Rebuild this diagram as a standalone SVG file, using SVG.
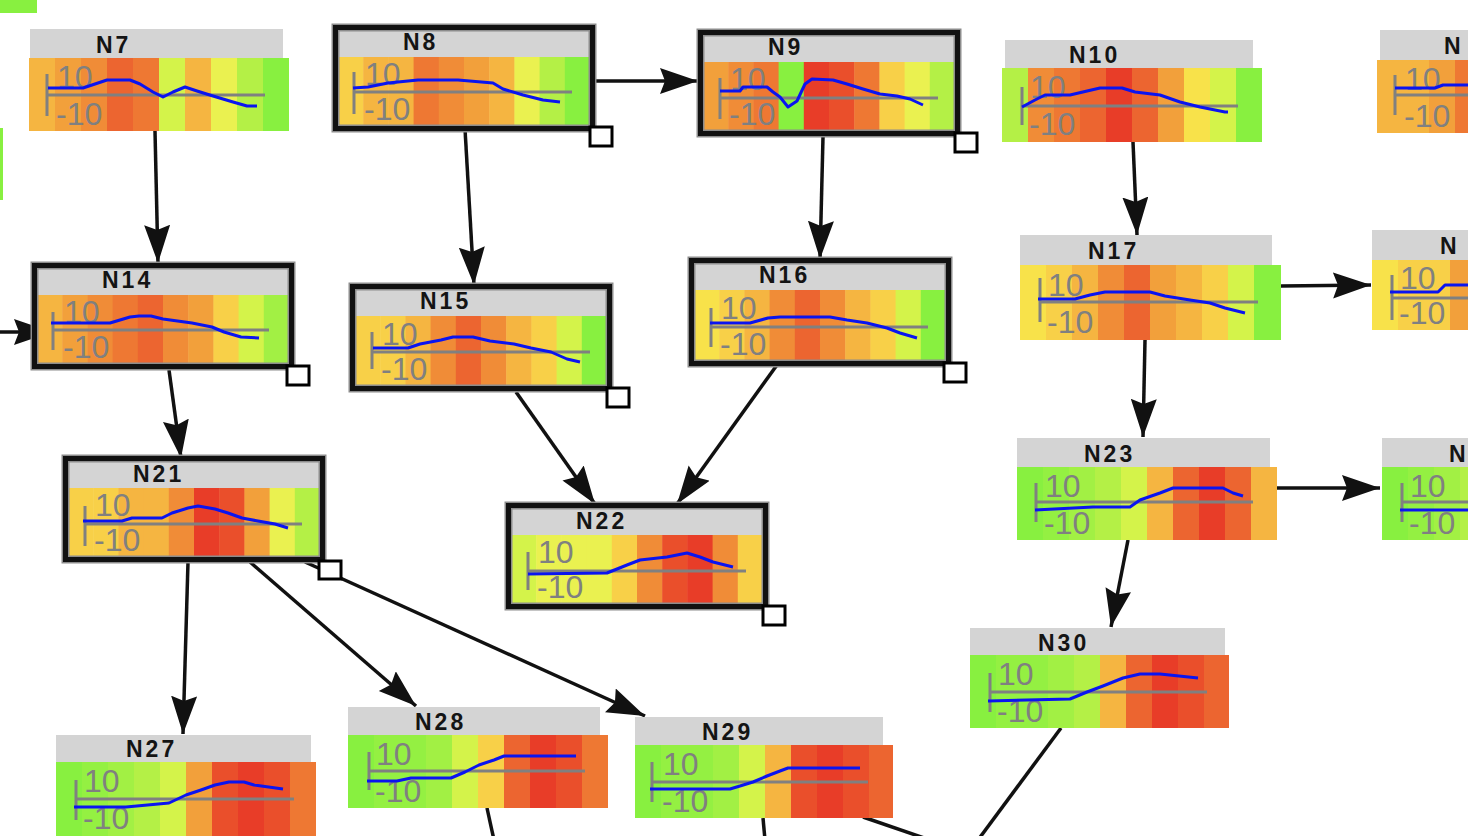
<svg xmlns="http://www.w3.org/2000/svg" width="1468" height="836" viewBox="0 0 1468 836">
<defs>
<style>
.hd{fill:#d4d4d4}
.tt{font-family:"Liberation Sans",Arial,sans-serif;font-weight:bold;font-size:23px;fill:#141414;letter-spacing:3px}
.lb{font-family:"Liberation Sans",Arial,sans-serif;font-size:32px;fill:#808080}
.ax{fill:none;stroke:#808080;stroke-width:3}
.bl{fill:none;stroke:#0a14f0;stroke-width:3;stroke-linejoin:round}
.bo{fill:none;stroke:#8c8c8c;stroke-width:8}
.bk{fill:none;stroke:#111;stroke-width:5}
.hn{fill:#fff;stroke:#000;stroke-width:3}
.e{fill:none;stroke:#111;stroke-width:3.5}
.G{fill:#88f040}.G2{fill:#94f042}.LG{fill:#a2f044}.LG2{fill:#b4f046}.YG{fill:#d4f34a}
.Y{fill:#eaf150}.Y2{fill:#f8e24a}.YO{fill:#f8d048}.OY{fill:#f5b541}.O{fill:#f2a03b}
.O2{fill:#f08c37}.OR{fill:#ee7833}.R1{fill:#ec6530}.R2{fill:#ea4f2b}.R{fill:#e83d28}
</style>
<marker id="ah" markerUnits="userSpaceOnUse" markerWidth="40" markerHeight="28" refX="38" refY="13" orient="auto">
<path d="M0,0 L38,13 L0,26 L5,13 z" fill="#111"/>
</marker>
</defs>
<rect width="1468" height="836" fill="#fff"/>
<rect x="0" y="0" width="37" height="13" class="G"/>
<rect x="0" y="128" width="3" height="72" class="G"/>

<g id="edges">
<path class="e" d="M155,131 L158,263" marker-end="url(#ah)"/>
<path class="e" d="M592,81 L698,81" marker-end="url(#ah)"/>
<path class="e" d="M465,129 L474,285" marker-end="url(#ah)"/>
<path class="e" d="M823,137 L820,259" marker-end="url(#ah)"/>
<path class="e" d="M1133,142 L1137,235" marker-end="url(#ah)"/>
<path class="e" d="M1281,286 L1371,285" marker-end="url(#ah)"/>
<path class="e" d="M169,370 L181,458" marker-end="url(#ah)"/>
<path class="e" d="M516,392 L595,504" marker-end="url(#ah)"/>
<path class="e" d="M777,365 L677,504" marker-end="url(#ah)"/>
<path class="e" d="M1145,340 L1143,437" marker-end="url(#ah)"/>
<path class="e" d="M1128,540 L1111,627" marker-end="url(#ah)"/>
<path class="e" d="M1275,488 L1380,488" marker-end="url(#ah)"/>
<path class="e" d="M188,562 L183,734" marker-end="url(#ah)"/>
<path class="e" d="M250,562 L416,706" marker-end="url(#ah)"/>
<path class="e" d="M305,562 L645,716" marker-end="url(#ah)"/>
<path class="e" d="M-30,332 L52,332" marker-end="url(#ah)"/>
<path class="e" d="M487,808 L494,840"/>
<path class="e" d="M763,818 L765,840"/>
<path class="e" d="M863,817 L930,840"/>
<path class="e" d="M1061,728 L978,840"/>
</g>

<g id="n7" transform="translate(29,58)">
<rect class="hd" x="1" y="-29" width="253" height="29"/>
<text class="tt" x="67" y="-5">N7</text>
<rect class="OY" x="0" width="26.5" height="73"/><rect class="O" x="26" width="26.5" height="73"/><rect class="O2" x="52" width="26.5" height="73"/><rect class="R1" x="78" width="26.5" height="73"/><rect class="OR" x="104" width="26.5" height="73"/><rect class="YG" x="130" width="26.5" height="73"/><rect class="OY" x="156" width="26.5" height="73"/><rect class="Y" x="182" width="26.5" height="73"/><rect class="LG2" x="208" width="26.5" height="73"/><rect class="G" x="234" width="26" height="73"/>
<text class="lb" x="28" y="30">10</text><text class="lb" x="27" y="67">-10</text>
<path class="ax" d="M18,16V58M18,37H236"/>
<polyline class="bl" points="19,30 54,30 78,22 101,22 111,26 124,34 134,39 144,34 156,29 168,33 184,38 204,44 218,48 228,48"/>
</g>

<g id="n8" transform="translate(338,57)">
<rect class="hd" x="0" y="-27" width="252" height="27"/>
<text class="tt" x="65" y="-7">N8</text>
<rect class="YO" x="0" width="25.7" height="69"/><rect class="OY" x="25.2" width="25.7" height="69"/><rect class="OY" x="50.4" width="25.7" height="69"/><rect class="OR" x="75.6" width="25.7" height="69"/><rect class="O2" x="100.8" width="25.7" height="69"/><rect class="O" x="126" width="25.7" height="69"/><rect class="OY" x="151.2" width="25.7" height="69"/><rect class="Y" x="176.4" width="25.7" height="69"/><rect class="LG2" x="201.6" width="25.7" height="69"/><rect class="G" x="226.8" width="25.2" height="69"/>
<text class="lb" x="27" y="28">10</text><text class="lb" x="26" y="63">-10</text>
<path class="ax" d="M16,15V57M16,35H234"/>
<polyline class="bl" points="15,31 30,30 50,26 80,23 120,23 155,26 165,32 185,38 205,43 222,45"/>
<rect class="bo" x="-2.5" y="-29.5" width="257" height="101"/>
<rect class="bk" x="-2.5" y="-29.5" width="257" height="101"/>
<rect class="hn" x="252" y="70" width="22" height="19"/>
</g>

<g id="n9" transform="translate(703,62)">
<rect class="hd" x="0" y="-27" width="252" height="27"/>
<text class="tt" x="65" y="-7">N9</text>
<rect class="O" x="0" width="25.7" height="69"/><rect class="O2" x="25.2" width="25.7" height="69"/><rect class="OR" x="50.4" width="25.7" height="69"/><rect class="G" x="75.6" width="25.7" height="69"/><rect class="R" x="100.8" width="25.7" height="69"/><rect class="R2" x="126" width="25.7" height="69"/><rect class="OR" x="151.2" width="25.7" height="69"/><rect class="YO" x="176.4" width="25.7" height="69"/><rect class="Y" x="201.6" width="25.7" height="69"/><rect class="LG2" x="226.8" width="25.2" height="69"/>
<text class="lb" x="27" y="28">10</text><text class="lb" x="26" y="63">-10</text>
<path class="ax" d="M17,16V57M17,36H235"/>
<polyline class="bl" points="17,29 37,29 40,25 64,25 70,30 77,35 85,45 94,39 102,22 109,17 130,18 144,22 160,27 177,32 194,34 207,37 220,43"/>
<rect class="bo" x="-2.5" y="-29.5" width="257" height="101"/>
<rect class="bk" x="-2.5" y="-29.5" width="257" height="101"/>
<rect class="hn" x="252" y="71" width="22" height="19"/>
</g>

<g id="n10" transform="translate(1002,68)">
<rect class="hd" x="3" y="-28" width="248" height="28"/>
<text class="tt" x="67" y="-5">N10</text>
<rect class="LG2" x="0" width="26.5" height="74"/><rect class="O2" x="26" width="26.5" height="74"/><rect class="OR" x="52" width="26.5" height="74"/><rect class="R1" x="78" width="26.5" height="74"/><rect class="R" x="104" width="26.5" height="74"/><rect class="R1" x="130" width="26.5" height="74"/><rect class="O" x="156" width="26.5" height="74"/><rect class="Y2" x="182" width="26.5" height="74"/><rect class="YG" x="208" width="26.5" height="74"/><rect class="G" x="234" width="26" height="74"/>
<text class="lb" x="28" y="30">10</text><text class="lb" x="27" y="67">-10</text>
<path class="ax" d="M20,19V57M20,38H236"/>
<polyline class="bl" points="20,39 33,32 43,27 68,27 98,20 120,20 133,24 158,27 178,34 198,39 223,44 226,44"/>
</g>

<g id="n11" transform="translate(1377,60)">
<rect class="hd" x="3" y="-30" width="100" height="30"/>
<text class="tt" x="67" y="-6">N</text>
<rect class="OY" x="0" width="26.5" height="73"/><rect class="OY" x="26" width="26.5" height="73"/><rect class="O" x="52" width="26.5" height="73"/><rect class="OR" x="78" width="26.5" height="73"/>
<text class="lb" x="28" y="30">10</text><text class="lb" x="27" y="67">-10</text>
<path class="ax" d="M18,15V55M18,35H100"/>
<polyline class="bl" points="18,28 58,28 66,25 100,25"/>
</g>

<g id="n14" transform="translate(37,295)">
<rect class="hd" x="0" y="-27" width="252" height="27"/>
<text class="tt" x="65" y="-7">N14</text>
<rect class="OY" x="0" width="25.7" height="69"/><rect class="O" x="25.2" width="25.7" height="69"/><rect class="O2" x="50.4" width="25.7" height="69"/><rect class="OR" x="75.6" width="25.7" height="69"/><rect class="R1" x="100.8" width="25.7" height="69"/><rect class="O2" x="126" width="25.7" height="69"/><rect class="O" x="151.2" width="25.7" height="69"/><rect class="YO" x="176.4" width="25.7" height="69"/><rect class="YG" x="201.6" width="25.7" height="69"/><rect class="LG" x="226.8" width="25.2" height="69"/>
<text class="lb" x="27" y="28">10</text><text class="lb" x="26" y="63">-10</text>
<path class="ax" d="M16,17V55M16,35H232"/>
<polyline class="bl" points="14,28 73,28 93,22 102,21 114,21 126,24 155,28 175,32 187,37 204,42 222,43"/>
<rect class="bo" x="-2.5" y="-29.5" width="257" height="101"/>
<rect class="bk" x="-2.5" y="-29.5" width="257" height="101"/>
<rect class="hn" x="250" y="71" width="22" height="19"/>
</g>

<g id="n15" transform="translate(355,316)">
<rect class="hd" x="0" y="-27" width="252" height="27"/>
<text class="tt" x="65" y="-7">N15</text>
<rect class="YO" x="0" width="25.7" height="70"/><rect class="YO" x="25.2" width="25.7" height="70"/><rect class="OY" x="50.4" width="25.7" height="70"/><rect class="O2" x="75.6" width="25.7" height="70"/><rect class="R1" x="100.8" width="25.7" height="70"/><rect class="O2" x="126" width="25.7" height="70"/><rect class="OY" x="151.2" width="25.7" height="70"/><rect class="YO" x="176.4" width="25.7" height="70"/><rect class="YG" x="201.6" width="25.7" height="70"/><rect class="G" x="226.8" width="25.2" height="70"/>
<text class="lb" x="27" y="29">10</text><text class="lb" x="26" y="64">-10</text>
<path class="ax" d="M17,16V53M17,36H235"/>
<polyline class="bl" points="18,32 53,32 65,28 86,24 98,21 118,21 135,25 159,28 176,32 196,36 212,43 225,46"/>
<rect class="bo" x="-2.5" y="-29.5" width="257" height="102"/>
<rect class="bk" x="-2.5" y="-29.5" width="257" height="102"/>
<rect class="hn" x="252" y="72" width="22" height="19"/>
</g>

<g id="n16" transform="translate(694,290)">
<rect class="hd" x="0" y="-27" width="252" height="27"/>
<text class="tt" x="65" y="-7">N16</text>
<rect class="Y2" x="0" width="25.7" height="71"/><rect class="YO" x="25.2" width="25.7" height="71"/><rect class="OY" x="50.4" width="25.7" height="71"/><rect class="O2" x="75.6" width="25.7" height="71"/><rect class="R1" x="100.8" width="25.7" height="71"/><rect class="O2" x="126" width="25.7" height="71"/><rect class="OY" x="151.2" width="25.7" height="71"/><rect class="YO" x="176.4" width="25.7" height="71"/><rect class="YG" x="201.6" width="25.7" height="71"/><rect class="G" x="226.8" width="25.2" height="71"/>
<text class="lb" x="27" y="29">10</text><text class="lb" x="26" y="65">-10</text>
<path class="ax" d="M17,18V57M17,37H234"/>
<polyline class="bl" points="16,33 56,33 74,28 86,27 136,27 153,30 173,33 193,38 206,43 223,48"/>
<rect class="bo" x="-2.5" y="-29.5" width="257" height="103"/>
<rect class="bk" x="-2.5" y="-29.5" width="257" height="103"/>
<rect class="hn" x="250" y="73" width="22" height="19"/>
</g>

<g id="n17" transform="translate(1020,265)">
<rect class="hd" x="0" y="-30" width="252" height="30"/>
<text class="tt" x="68" y="-6">N17</text>
<rect class="Y2" x="0" width="26.5" height="75"/><rect class="YO" x="26" width="26.5" height="75"/><rect class="OY" x="52" width="26.5" height="75"/><rect class="O2" x="78" width="26.5" height="75"/><rect class="R1" x="104" width="26.5" height="75"/><rect class="O" x="130" width="26.5" height="75"/><rect class="OY" x="156" width="26.5" height="75"/><rect class="YO" x="182" width="26.5" height="75"/><rect class="YG" x="208" width="26.5" height="75"/><rect class="G" x="234" width="27" height="75"/>
<text class="lb" x="28" y="31">10</text><text class="lb" x="27" y="68">-10</text>
<path class="ax" d="M20,13V57M20,37H238"/>
<polyline class="bl" points="18,34 55,34 70,30 85,27 130,27 145,31 170,35 190,38 205,43 225,48"/>
</g>

<g id="n18" transform="translate(1372,260)">
<rect class="hd" x="0" y="-30" width="100" height="30"/>
<text class="tt" x="68" y="-6">N</text>
<rect class="Y2" x="0" width="26.5" height="70"/><rect class="YO" x="26" width="26.5" height="70"/><rect class="YO" x="52" width="26.5" height="70"/><rect class="O" x="78" width="26.5" height="70"/>
<text class="lb" x="28" y="29">10</text><text class="lb" x="27" y="64">-10</text>
<path class="ax" d="M20,15V60M20,38H100"/>
<polyline class="bl" points="18,32 66,32 73,25 100,25"/>
</g>

<g id="n21" transform="translate(68,488)">
<rect class="hd" x="0" y="-27" width="252" height="27"/>
<text class="tt" x="65" y="-6">N21</text>
<rect class="YO" x="0" width="25.7" height="69"/><rect class="YO" x="25.2" width="25.7" height="69"/><rect class="OY" x="50.4" width="25.7" height="69"/><rect class="OY" x="75.6" width="25.7" height="69"/><rect class="O2" x="100.8" width="25.7" height="69"/><rect class="R" x="126" width="25.7" height="69"/><rect class="R2" x="151.2" width="25.7" height="69"/><rect class="O" x="176.4" width="25.7" height="69"/><rect class="Y" x="201.6" width="25.7" height="69"/><rect class="LG2" x="226.8" width="25.2" height="69"/>
<text class="lb" x="27" y="28">10</text><text class="lb" x="26" y="63">-10</text>
<path class="ax" d="M17,18V58M17,36H234"/>
<polyline class="bl" points="15,33 54,33 64,30 94,30 104,25 120,20 130,18 147,21 160,25 174,30 190,33 207,36 220,40"/>
<rect class="bo" x="-2.5" y="-29.5" width="257" height="101"/>
<rect class="bk" x="-2.5" y="-29.5" width="257" height="101"/>
<rect class="hn" x="251" y="73" width="22" height="18"/>
</g>

<g id="n22" transform="translate(511,535)">
<rect class="hd" x="0" y="-27" width="252" height="27"/>
<text class="tt" x="65" y="-6">N22</text>
<rect class="YG" x="0" width="25.7" height="69"/><rect class="Y" x="25.2" width="25.7" height="69"/><rect class="Y" x="50.4" width="25.7" height="69"/><rect class="Y" x="75.6" width="25.7" height="69"/><rect class="YO" x="100.8" width="25.7" height="69"/><rect class="O2" x="126" width="25.7" height="69"/><rect class="R2" x="151.2" width="25.7" height="69"/><rect class="R" x="176.4" width="25.7" height="69"/><rect class="O2" x="201.6" width="25.7" height="69"/><rect class="YO" x="226.8" width="25.2" height="69"/>
<text class="lb" x="27" y="28">10</text><text class="lb" x="26" y="63">-10</text>
<path class="ax" d="M17,17V55M17,36H235"/>
<polyline class="bl" points="17,39 96,38 116,30 129,25 156,22 176,18 189,22 202,27 222,32"/>
<rect class="bo" x="-2.5" y="-29.5" width="257" height="101"/>
<rect class="bk" x="-2.5" y="-29.5" width="257" height="101"/>
<rect class="hn" x="252" y="71" width="22" height="19"/>
</g>

<g id="n23" transform="translate(1017,467)">
<rect class="hd" x="0" y="-29" width="253" height="29"/>
<text class="tt" x="67" y="-5">N23</text>
<rect class="G" x="0" width="26.5" height="73"/><rect class="G2" x="26" width="26.5" height="73"/><rect class="LG" x="52" width="26.5" height="73"/><rect class="LG2" x="78" width="26.5" height="73"/><rect class="YG" x="104" width="26.5" height="73"/><rect class="OY" x="130" width="26.5" height="73"/><rect class="R1" x="156" width="26.5" height="73"/><rect class="R" x="182" width="26.5" height="73"/><rect class="R1" x="208" width="26.5" height="73"/><rect class="OY" x="234" width="26" height="73"/>
<text class="lb" x="28" y="30">10</text><text class="lb" x="27" y="67">-10</text>
<path class="ax" d="M19,16V55M19,35H236"/>
<polyline class="bl" points="18,43 76,40 113,40 123,33 143,26 156,21 206,21 216,26 226,29"/>
</g>

<g id="n24" transform="translate(1382,467)">
<rect class="hd" x="0" y="-29" width="90" height="29"/>
<text class="tt" x="67" y="-5">N</text>
<rect class="G" x="0" width="26.5" height="73"/><rect class="G2" x="26" width="26.5" height="73"/><rect class="LG" x="52" width="26.5" height="73"/><rect class="LG2" x="78" width="26.5" height="73"/>
<text class="lb" x="28" y="30">10</text><text class="lb" x="27" y="67">-10</text>
<path class="ax" d="M20,16V55M20,35H90"/>
<polyline class="bl" points="18,43 90,43"/>
</g>

<g id="n27" transform="translate(56,762)">
<rect class="hd" x="0" y="-27" width="255" height="27"/>
<text class="tt" x="70" y="-5">N27</text>
<rect class="G" x="0" width="26.5" height="74"/><rect class="G2" x="26" width="26.5" height="74"/><rect class="LG" x="52" width="26.5" height="74"/><rect class="LG2" x="78" width="26.5" height="74"/><rect class="YG" x="104" width="26.5" height="74"/><rect class="O" x="130" width="26.5" height="74"/><rect class="R2" x="156" width="26.5" height="74"/><rect class="R" x="182" width="26.5" height="74"/><rect class="R2" x="208" width="26.5" height="74"/><rect class="OR" x="234" width="26" height="74"/>
<text class="lb" x="28" y="30">10</text><text class="lb" x="27" y="67">-10</text>
<path class="ax" d="M20,18V58M20,37H238"/>
<polyline class="bl" points="18,45 70,45 113,41 130,33 145,28 159,23 173,20 188,20 198,23 227,27"/>
</g>

<g id="n28" transform="translate(348,735)">
<rect class="hd" x="0" y="-28" width="252" height="28"/>
<text class="tt" x="67" y="-5">N28</text>
<rect class="G" x="0" width="26.5" height="73"/><rect class="G2" x="26" width="26.5" height="73"/><rect class="G2" x="52" width="26.5" height="73"/><rect class="LG" x="78" width="26.5" height="73"/><rect class="YG" x="104" width="26.5" height="73"/><rect class="YO" x="130" width="26.5" height="73"/><rect class="R1" x="156" width="26.5" height="73"/><rect class="R" x="182" width="26.5" height="73"/><rect class="R2" x="208" width="26.5" height="73"/><rect class="OR" x="234" width="26" height="73"/>
<text class="lb" x="28" y="30">10</text><text class="lb" x="27" y="67">-10</text>
<path class="ax" d="M21,17V55M21,36H237"/>
<polyline class="bl" points="19,46 49,46 63,43 103,43 117,37 131,30 146,25 156,21 228,21"/>
</g>

<g id="n29" transform="translate(635,745)">
<rect class="hd" x="0" y="-28" width="248" height="28"/>
<text class="tt" x="67" y="-5">N29</text>
<rect class="G" x="0" width="26.5" height="73"/><rect class="G2" x="26" width="26.5" height="73"/><rect class="G2" x="52" width="26.5" height="73"/><rect class="LG" x="78" width="26.5" height="73"/><rect class="YG" x="104" width="26.5" height="73"/><rect class="OY" x="130" width="26.5" height="73"/><rect class="R2" x="156" width="26.5" height="73"/><rect class="R" x="182" width="26.5" height="73"/><rect class="R2" x="208" width="26.5" height="73"/><rect class="R1" x="234" width="24" height="73"/>
<text class="lb" x="28" y="30">10</text><text class="lb" x="27" y="67">-10</text>
<path class="ax" d="M17,17V57M17,37H233"/>
<polyline class="bl" points="15,44 95,44 105,41 118,37 132,31 145,26 153,23 225,23"/>
</g>

<g id="n30" transform="translate(970,655)">
<rect class="hd" x="0" y="-27" width="255" height="27"/>
<text class="tt" x="68" y="-4">N30</text>
<rect class="G" x="0" width="26.5" height="73"/><rect class="G2" x="26" width="26.5" height="73"/><rect class="G2" x="52" width="26.5" height="73"/><rect class="LG" x="78" width="26.5" height="73"/><rect class="LG2" x="104" width="26.5" height="73"/><rect class="OY" x="130" width="26.5" height="73"/><rect class="R1" x="156" width="26.5" height="73"/><rect class="R" x="182" width="26.5" height="73"/><rect class="R2" x="208" width="26.5" height="73"/><rect class="R1" x="234" width="25" height="73"/>
<text class="lb" x="28" y="30">10</text><text class="lb" x="27" y="67">-10</text>
<path class="ax" d="M20,18V57M20,37H237"/>
<polyline class="bl" points="18,46 100,44 117,37 133,31 153,23 170,19 190,19 228,23"/>
</g>
</svg>
